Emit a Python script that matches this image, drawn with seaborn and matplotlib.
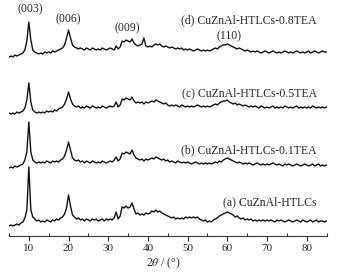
"""XRD patterns of CuZnAl-HTLCs samples, stacked traces."""

import matplotlib
matplotlib.use("Agg")
import matplotlib.pyplot as plt
from matplotlib.ticker import MultipleLocator
import numpy as np
import pandas as pd
import seaborn as sns

# 2theta grid, 5 to 85 deg in 0.5 deg steps
two_theta = np.arange(5.0, 85.01, 0.5)

# intensities (already stacked, arbitrary units)
int_a = [
    10, 11, 10, 11, 12, 11, 13, 14, 18, 26,
    69, 26, 19, 17, 15, 16, 14, 15, 14, 16,
    15, 14, 16, 15, 17, 16, 18, 19, 22, 28,
    41, 30, 21, 19, 17, 18, 16, 17, 15, 17,
    16, 15, 17, 16, 17, 15, 16, 17, 15, 17,
    16, 17, 16, 18, 24, 17, 20, 29, 28, 30,
    28, 29, 33, 27, 22, 23, 21, 22, 21, 23,
    22, 23, 25, 24, 26, 24, 25, 23, 22, 21,
    20, 19, 18, 19, 17, 18, 17, 18, 17, 19,
    18, 19, 18, 19, 18, 19, 17, 16, 15, 16,
    14, 15, 14, 16, 17, 18, 20, 21, 22, 23,
    24, 23, 22, 21, 19, 20, 18, 17, 18, 16,
    17, 16, 17, 15, 16, 15, 16, 15, 16, 15,
    16, 15, 16, 15, 14, 16, 15, 16, 15, 14,
    15, 16, 15, 14, 15, 16, 15, 14, 16, 15,
    14, 15, 16, 14, 15, 16, 14, 15, 15, 14,
    15,
]
int_b = [
    68, 69, 68, 70, 69, 70, 71, 72, 76, 84,
    114, 84, 76, 74, 73, 74, 73, 74, 73, 75,
    74, 73, 75, 74, 75, 74, 76, 77, 80, 86,
    94, 86, 78, 76, 75, 76, 74, 75, 73, 75,
    74, 73, 75, 74, 73, 74, 73, 75, 74, 73,
    74, 75, 74, 76, 79, 75, 77, 83, 82, 84,
    83, 82, 86, 81, 78, 77, 76, 77, 75, 77,
    76, 77, 78, 77, 79, 78, 77, 76, 77, 75,
    76, 74, 75, 74, 73, 75, 74, 73, 74, 73,
    74, 73, 72, 73, 74, 73, 72, 73, 72, 73,
    72, 73, 72, 73, 74, 73, 75, 74, 76, 77,
    78, 77, 76, 75, 74, 73, 74, 73, 72, 73,
    72, 73, 72, 71, 72, 73, 72, 71, 72, 71,
    72, 71, 72, 73, 72, 71, 72, 71, 70, 72,
    71, 72, 71, 70, 71, 72, 71, 70, 71, 72,
    71, 70, 71, 72, 70, 71, 72, 70, 71, 70,
    71,
]
int_c = [
    123, 122, 123, 122, 124, 123, 124, 125, 128, 136,
    153, 134, 126, 124, 123, 124, 123, 124, 123, 125,
    124, 125, 124, 126, 125, 127, 128, 129, 132, 137,
    144, 137, 132, 130, 129, 130, 128, 129, 128, 130,
    129, 128, 130, 129, 128, 129, 128, 130, 129, 128,
    129, 130, 129, 130, 134, 129, 131, 137, 136, 138,
    137, 136, 139, 135, 133, 134, 133, 134, 132, 134,
    133, 134, 135, 134, 136, 135, 134, 133, 132, 133,
    131, 130, 131, 130, 131, 130, 129, 131, 130, 129,
    130, 129, 130, 129, 130, 131, 130, 129, 130, 129,
    130, 129, 130, 131, 132, 131, 133, 134, 135, 135,
    136, 134, 133, 132, 133, 131, 132, 131, 130, 131,
    130, 129, 130, 129, 130, 129, 128, 130, 129, 128,
    129, 128, 129, 130, 128, 129, 128, 129, 128, 130,
    129, 128, 129, 128, 129, 130, 128, 129, 128, 129,
    128, 129, 128, 130, 129, 128, 129, 128, 129, 128,
    129,
]
int_d = [
    179, 180, 179, 181, 180, 181, 182, 183, 186, 195,
    214, 196, 186, 184, 183, 182, 183, 182, 184, 183,
    184, 183, 185, 184, 185, 186, 187, 188, 191, 198,
    206, 198, 191, 189, 188, 187, 188, 187, 186, 188,
    187, 186, 188, 187, 186, 187, 186, 188, 187, 186,
    187, 188, 187, 186, 190, 187, 189, 195, 194, 196,
    195, 194, 197, 193, 191, 190, 191, 192, 198, 190,
    189, 190, 189, 191, 192, 191, 192, 190, 189, 190,
    189, 188, 189, 188, 187, 188, 187, 188, 186, 187,
    186, 187, 186, 185, 186, 187, 186, 185, 186, 185,
    186, 185, 186, 187, 188, 187, 189, 190, 191, 191,
    192, 191, 190, 189, 188, 187, 188, 187, 186, 185,
    186, 185, 184, 185, 184, 185, 184, 183, 184, 185,
    184, 183, 184, 185, 184, 183, 184, 183, 184, 185,
    184, 183, 184, 183, 184, 185, 184, 183, 184, 183,
    184, 185, 183, 184, 185, 184, 183, 184, 185, 184,
    184,
]

sample_names = ["(a) CuZnAl-HTLCs", "(b) CuZnAl-HTLCs-0.1TEA",
                "(c) CuZnAl-HTLCs-0.5TEA", "(d) CuZnAl-HTLCs-0.8TEA"]
label_y = [33.5, 85.5, 143, 216]

peak_names = ["(003)", "(006)", "(009)", "(110)"]
peak_x = [10.3, 19.9, 34.8, 60.5]
peak_y = [226.5, 217, 208, 200]


def main():
    frames = []
    for name, vals in zip(sample_names, [int_a, int_b, int_c, int_d]):
        frames.append(pd.DataFrame({"two_theta": two_theta, "intensity": vals,
                                    "sample": name}))
    df = pd.concat(frames, ignore_index=True)

    sns.set_style("ticks")
    plt.rcParams["font.family"] = ["Liberation Serif", "DejaVu Serif"]
    plt.rcParams["mathtext.fontset"] = "stix"

    fig = plt.figure(figsize=(3.37, 2.74), dpi=100)
    ax = fig.add_axes([9 / 337, 38 / 274, 317.5 / 337, 236 / 274])

    sns.lineplot(data=df, x="two_theta", y="intensity", hue="sample",
                 palette=["#111111"] * 4, legend=False, lw=1.0, ax=ax)

    for name, y in zip(sample_names, label_y):
        ax.text(82.6, y, name, ha="right", va="center", fontsize=8.5)
    for name, x, y in zip(peak_names, peak_x, peak_y):
        ax.text(x, y, name, ha="center", va="center", fontsize=8.5)

    ax.set_xlim(5, 85)
    ax.set_ylim(0, 236)
    ax.xaxis.set_major_locator(MultipleLocator(10))
    ax.xaxis.set_minor_locator(MultipleLocator(5))
    ax.tick_params(axis="x", which="major", direction="out", length=3.5,
                   width=0.8, labelsize=8, pad=2.5, color="#333333")
    ax.tick_params(axis="x", which="minor", direction="in", length=2.5,
                   width=0.8, color="#333333")
    ax.set_yticks([])
    ax.set_ylabel("")
    ax.set_xlabel(r"2$\theta$ / (°)", fontsize=8.5, labelpad=2)
    ax.xaxis.set_label_coords(0.485, -0.085)
    for side in ("left", "top", "right"):
        ax.spines[side].set_visible(False)
    ax.spines["bottom"].set_linewidth(0.8)
    ax.spines["bottom"].set_color("#333333")
    ax.patch.set_alpha(0)

    fig.savefig("out.png", dpi=100)
    plt.close(fig)


if __name__ == "__main__":
    main()
